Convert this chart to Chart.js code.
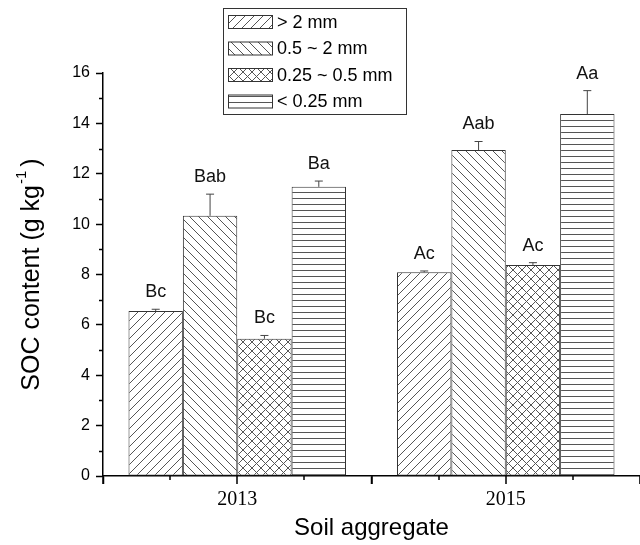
<!DOCTYPE html>
<html>
<head>
<meta charset="utf-8">
<script src="https://cdn.jsdelivr.net/npm/chart.js@4.4.1/dist/chart.umd.min.js"></script>
<style>
    html, body { margin: 0; padding: 0; background: #fff; }
    #wrap { width: 640px; height: 545px; position: relative; }
</style>
</head>
<body>
<div id="wrap"><canvas id="socChart"></canvas></div>
<script>
const years = [2013, 2015];
const sizeClasses = ['> 2 mm', '0.5 ~ 2 mm', '0.25 ~ 0.5 mm', '< 0.25 mm'];

// SOC content (g/kg) per aggregate class, one value per year
const socCoarse = [6.55, 8.09];
const socMedium = [10.33, 12.94];
const socFine = [5.45, 8.38];
const socMicro = [11.48, 14.37];

// standard errors (drawn upward only)
const errCoarse = [0.07, 0.05];
const errMedium = [0.86, 0.34];
const errFine = [0.13, 0.09];
const errMicro = [0.23, 0.93];

// significance letters
const sigCoarse = ['Bc', 'Ac'];
const sigMedium = ['Bab', 'Aab'];
const sigFine = ['Bc', 'Ac'];
const sigMicro = ['Ba', 'Aa'];

const yMin = 0, yMax = 16, yStep = 2;
const xMin = 2012, xMax = 2016;

const sansFont = '"Liberation Sans", Arial, sans-serif';
const serifFont = '"Liberation Serif", "Times New Roman", serif';
const inkColor = '#000';
const hatchColor = '#555';
const edgeColor = '#333';

function makePattern(kind) {
    const size = kind === 'horizontal' ? 6 : 9;
    const c = document.createElement('canvas');
    c.width = size;
    c.height = size;
    const g = c.getContext('2d');
    g.fillStyle = '#fff';
    g.fillRect(0, 0, size, size);
    g.strokeStyle = hatchColor;
    g.lineWidth = 1;
    g.beginPath();
    if (kind === 'horizontal') {
        g.moveTo(0, 0.5);
        g.lineTo(size, 0.5);
    }
    if (kind === 'forward' || kind === 'cross') {
        g.moveTo(-1, size + 1); g.lineTo(size + 1, -1);
        g.moveTo(-1, 1); g.lineTo(1, -1);
        g.moveTo(size - 1, size + 1); g.lineTo(size + 1, size - 1);
    }
    if (kind === 'back' || kind === 'cross') {
        g.moveTo(-1, -1); g.lineTo(size + 1, size + 1);
        g.moveTo(size - 1, -1); g.lineTo(size + 1, 1);
        g.moveTo(-1, size - 1); g.lineTo(1, size + 1);
    }
    g.stroke();
    const ctx = document.createElement('canvas').getContext('2d');
    return ctx.createPattern(c, 'repeat');
}

const patterns = [makePattern('forward'), makePattern('back'), makePattern('cross'), makePattern('horizontal')];
const seriesValues = [socCoarse, socMedium, socFine, socMicro];
const seriesErrors = [errCoarse, errMedium, errFine, errMicro];
const seriesLetters = [sigCoarse, sigMedium, sigFine, sigMicro];

const datasets = sizeClasses.map(function (name, i) {
    return {
        label: name,
        data: years.map(function (yr, j) { return { x: yr, y: seriesValues[i][j] }; }),
        backgroundColor: patterns[i],
        borderColor: edgeColor,
        borderWidth: 1,
        borderSkipped: false,
        errors: seriesErrors[i],
        letters: seriesLetters[i]
    };
});

// error bars and letters above each bar
const errorBarPlugin = {
    id: 'errorBars',
    afterDatasetsDraw(chart) {
        const ctx = chart.ctx;
        const yScale = chart.scales.y;
        ctx.save();
        chart.data.datasets.forEach(function (ds, i) {
            const meta = chart.getDatasetMeta(i);
            meta.data.forEach(function (bar, j) {
                const top = yScale.getPixelForValue(ds.data[j].y + ds.errors[j]);
                ctx.strokeStyle = '#444';
                ctx.lineWidth = 1;
                ctx.beginPath();
                ctx.moveTo(bar.x, bar.y);
                ctx.lineTo(bar.x, top);
                ctx.moveTo(bar.x - 4, top);
                ctx.lineTo(bar.x + 4, top);
                ctx.stroke();

                ctx.fillStyle = '#111';
                ctx.font = '18px ' + sansFont;
                ctx.textAlign = 'center';
                ctx.textBaseline = 'bottom';
                ctx.fillText(ds.letters[j], bar.x, top - 8);
            });
        });
        ctx.restore();
    }
};

// minor ticks, y title with superscript, boxed legend
const decorPlugin = {
    id: 'decor',
    afterDraw(chart) {
        const ctx = chart.ctx;
        const xs = chart.scales.x;
        const ys = chart.scales.y;
        const area = chart.chartArea;
        ctx.save();
        ctx.strokeStyle = inkColor;
        ctx.lineWidth = 1.5;
        ctx.beginPath();
        for (let v = yMin + yStep / 2; v < yMax; v += yStep) {
            const py = Math.round(ys.getPixelForValue(v)) + 0.5;
            ctx.moveTo(area.left, py);
            ctx.lineTo(area.left - 4, py);
        }
        for (let v = xMin; v <= xMax; v += 0.5) {
            const px = Math.round(xs.getPixelForValue(v));
            const len = Number.isInteger(v) ? 8 : 4;
            ctx.moveTo(px, area.bottom);
            ctx.lineTo(px, area.bottom + len);
        }
        ctx.stroke();

        // y axis title
        ctx.fillStyle = inkColor;
        ctx.translate(32, (area.top + area.bottom) / 2);
        ctx.rotate(-Math.PI / 2);
        ctx.textBaseline = 'middle';
        ctx.textAlign = 'left';
        const mainFont = '25px ' + sansFont;
        const supFont = '15px ' + sansFont;
        const partA = 'SOC content (g kg';
        const partB = '-1';
        const partC = ')';
        ctx.font = mainFont;
        const wA = ctx.measureText(partA).width;
        const wC = ctx.measureText(partC).width;
        ctx.font = supFont;
        const wB = ctx.measureText(partB).width;
        const gap = 5;
        let x0 = -(wA + wB + gap + wC) / 2;
        ctx.font = mainFont;
        ctx.fillText(partA, x0, 0);
        ctx.font = supFont;
        ctx.fillText(partB, x0 + wA + 1, -10);
        ctx.font = mainFont;
        ctx.fillText(partC, x0 + wA + wB + gap, 0);
        ctx.setTransform(1, 0, 0, 1, 0, 0);

        // legend box
        ctx.strokeStyle = edgeColor;
        ctx.lineWidth = 1;
        ctx.strokeRect(223.5, 8.5, 183, 106);
        ctx.font = '18px ' + sansFont;
        ctx.textAlign = 'left';
        ctx.textBaseline = 'middle';
        chart.data.datasets.forEach(function (ds, i) {
            const yc = 22 + i * 26.5;
            ctx.fillStyle = ds.backgroundColor;
            ctx.fillRect(228.5, yc - 6.5, 44, 13);
            ctx.strokeRect(228.5, yc - 6.5, 44, 13);
            ctx.fillStyle = inkColor;
            ctx.fillText(ds.label, 277, yc + 1);
        });
        ctx.restore();
    }
};

new Chart(document.getElementById('socChart'), {
    type: 'bar',
    data: { datasets: datasets },
    options: {
        responsive: true,
        maintainAspectRatio: false,
        animation: false,
        layout: { padding: { top: 73, right: 0, bottom: 0, left: 0 } },
        datasets: {
            bar: { barPercentage: 1, categoryPercentage: 0.81 }
        },
        plugins: {
            legend: { display: false },
            tooltip: { enabled: false }
        },
        scales: {
            x: {
                type: 'linear',
                min: xMin,
                max: xMax,
                offset: false,
                ticks: {
                    stepSize: 1,
                    autoSkip: false,
                    maxRotation: 0,
                    padding: 4,
                    color: inkColor,
                    font: { family: serifFont, size: 20 },
                    callback: function (v) { return String(v); }
                },
                afterBuildTicks: function (s) {
                    s.ticks = s.ticks.filter(function (t) { return years.includes(t.value); });
                },
                grid: { drawOnChartArea: false, tickLength: 8, tickColor: inkColor, tickWidth: 1.5 },
                border: { display: true, color: inkColor, width: 1.5 },
                title: {
                    display: true,
                    text: 'Soil aggregate',
                    color: inkColor,
                    font: { family: sansFont, size: 24 },
                    padding: { top: 0, bottom: 2 }
                },
                afterFit: function (s) { s.height = 69; }
            },
            y: {
                min: yMin,
                max: yMax,
                ticks: {
                    stepSize: yStep,
                    padding: 6,
                    color: inkColor,
                    font: { family: sansFont, size: 16 }
                },
                grid: { drawOnChartArea: false, tickLength: 7, tickColor: inkColor, tickWidth: 1.5 },
                border: { display: true, color: inkColor, width: 1.5 },
                afterFit: function (s) { s.width = 103; }
            }
        }
    },
    plugins: [errorBarPlugin, decorPlugin]
});
</script>
</body>
</html>
